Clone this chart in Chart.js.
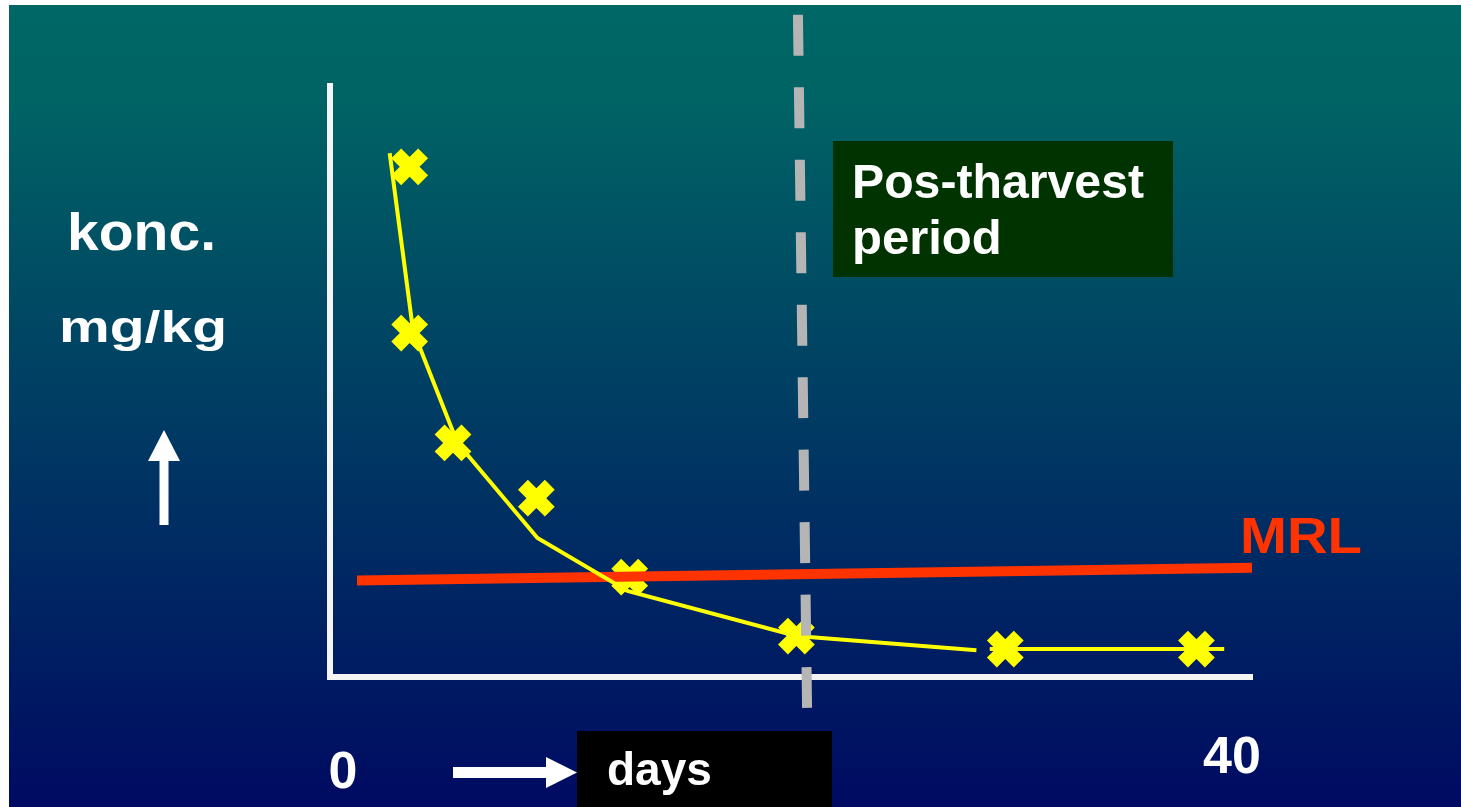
<!DOCTYPE html>
<html>
<head>
<meta charset="utf-8">
<script src="https://cdn.jsdelivr.net/npm/chart.js@4.4.1/dist/chart.umd.min.js"></script>
<style>
    html, body { margin: 0; padding: 0; background: #ffffff; overflow: hidden; }
    canvas { display: block; }
</style>
</head>
<body>
<canvas id="ChartResiduos" width="1461" height="807"></canvas>
<script>

// valores medidos (dias, mg/kg)
const MedicionDias = [3.0, 3.0, 4.95, 8.7, 12.9, 20.4, 29.8, 38.4];
const MedicionConc = [85.9, 57.9, 39.4, 30.1, 16.8, 6.9, 4.7, 4.7];

// curva de degradacion
const CurvaDias = [2.1, 3.15, 5.15, 8.75, 12.8, 20.4, 28.5, 28.9, 29.1, 39.65];
const CurvaConc = [88.2, 58.4, 39.4, 23.4, 14.5, 6.9, 4.5, null, 4.7, 4.7];

// limite maximo de residuos
const MrlDias = [0.63, 40.9];
const MrlConc = [16.25, 18.4];

// inicio del periodo post cosecha
const CosechaDias = [20.47, 20.88];
const CosechaConc = [111.5, -5.2];

const TicksDias = [0, 40];
const TicksTexto = ['0', '40'];

const aPuntos = (xs, ys) => xs.map((x, i) => ({ x: x, y: ys[i] }));

const Texto = (ctx, txt, x, y, size, ancho, color, align) => {
    ctx.save();
    ctx.font = 'bold ' + size + 'px "Liberation Sans", Arial, sans-serif';
    ctx.fillStyle = color;
    ctx.textBaseline = 'alphabetic';
    ctx.textAlign = align || 'left';
    const w = ctx.measureText(txt).width;
    ctx.translate(x, y);
    ctx.scale(ancho ? ancho / w : 1, 1);
    ctx.fillText(txt, 0, 0);
    ctx.restore();
};

const Flecha = (ctx, pts) => {
    ctx.save();
    ctx.fillStyle = '#ffffff';
    ctx.beginPath();
    pts.forEach((p, i) => i ? ctx.lineTo(p[0], p[1]) : ctx.moveTo(p[0], p[1]));
    ctx.closePath();
    ctx.fill();
    ctx.restore();
};

const Fondo = {
    id: 'fondo',
    beforeDraw: (chart) => {
        const ctx = chart.ctx;
        const g = ctx.createLinearGradient(0, 5, 0, 807);
        g.addColorStop(0, '#006666');
        g.addColorStop(0.12, '#006364');
        g.addColorStop(1, '#000a62');
        ctx.save();
        ctx.fillStyle = g;
        ctx.fillRect(9, 5, 1452, 802);
        ctx.restore();
    },
    afterDraw: (chart) => {
        const ctx = chart.ctx;
        const x = chart.scales.x;

        // cuadros
        ctx.fillStyle = '#003300';
        ctx.fillRect(833, 141, 340, 136);
        ctx.fillStyle = '#000000';
        ctx.fillRect(577, 731, 255, 76);

        Texto(ctx, 'Pos-tharvest', 852, 198, 49, 292, '#ffffff');
        Texto(ctx, 'period', 852, 254, 49, null, '#ffffff');
        Texto(ctx, 'days', 607, 785, 46, null, '#ffffff');
        Texto(ctx, 'konc.', 67, 250, 51, 149, '#ffffff');
        Texto(ctx, 'mg/kg', 59, 342, 45, 168, '#ffffff');
        Texto(ctx, 'MRL', 1240, 553, 50, 122, '#ff3300');

        Texto(ctx, TicksTexto[0], x.getPixelForValue(TicksDias[0]), 788, 52, null, '#ffffff', 'center');
        Texto(ctx, TicksTexto[1], x.getPixelForValue(TicksDias[1]), 773, 52, null, '#ffffff', 'center');

        // flechas
        Flecha(ctx, [[164, 430], [180, 461], [168.5, 461], [168.5, 525], [159.5, 525], [159.5, 461], [148, 461]]);
        Flecha(ctx, [[577, 772.5], [546, 757], [546, 767], [453, 767], [453, 778], [546, 778], [546, 788]]);
    }
};

var ctxResiduos = document.getElementById('ChartResiduos');
var ChartResiduos = new Chart(ctxResiduos, {
    type: 'scatter',
    data: {
        datasets: [{
            label: 'Pos-tharvest',
            data: aPuntos(CosechaDias, CosechaConc),
            showLine: true,
            borderColor: '#b5b5b5',
            borderWidth: 10,
            borderDash: [41, 31.5],
            pointRadius: 0,
            clip: false,
            order: 0
        }, {
            label: 'Curva',
            data: aPuntos(CurvaDias, CurvaConc),
            showLine: true,
            spanGaps: false,
            borderColor: '#ffff00',
            borderWidth: 4,
            pointRadius: 0,
            order: 1
        }, {
            label: 'MRL',
            data: aPuntos(MrlDias, MrlConc),
            showLine: true,
            borderColor: '#ff3300',
            borderWidth: 10,
            pointRadius: 0,
            clip: false,
            order: 2
        }, {
            label: 'Medicion',
            data: aPuntos(MedicionDias, MedicionConc),
            showLine: false,
            pointStyle: 'crossRot',
            pointRadius: 19,
            pointBorderWidth: 14,
            pointBorderColor: '#ffff00',
            pointBackgroundColor: '#ffff00',
            clip: false,
            order: 3
        }]
    },
    options: {
        responsive: false,
        animation: false,
        events: [],
        layout: {
            padding: { left: 330, top: 86, right: 209, bottom: 130 }
        },
        plugins: {
            legend: { display: false },
            tooltip: { enabled: false }
        },
        scales: {
            x: {
                type: 'linear',
                min: -0.585,
                max: 40.9,
                ticks: { display: false },
                grid: { display: false, drawTicks: false },
                border: { display: true, color: '#f4f4f4', width: 6 },
                afterFit: (s) => { s.height = 0; }
            },
            y: {
                type: 'linear',
                min: 0,
                max: 99.5,
                ticks: { display: false },
                grid: { display: false, drawTicks: false },
                border: { display: true, color: '#f4f4f4', width: 6 },
                afterFit: (s) => { s.width = 0; }
            }
        }
    },
    plugins: [Fondo]
});

</script>
</body>
</html>
